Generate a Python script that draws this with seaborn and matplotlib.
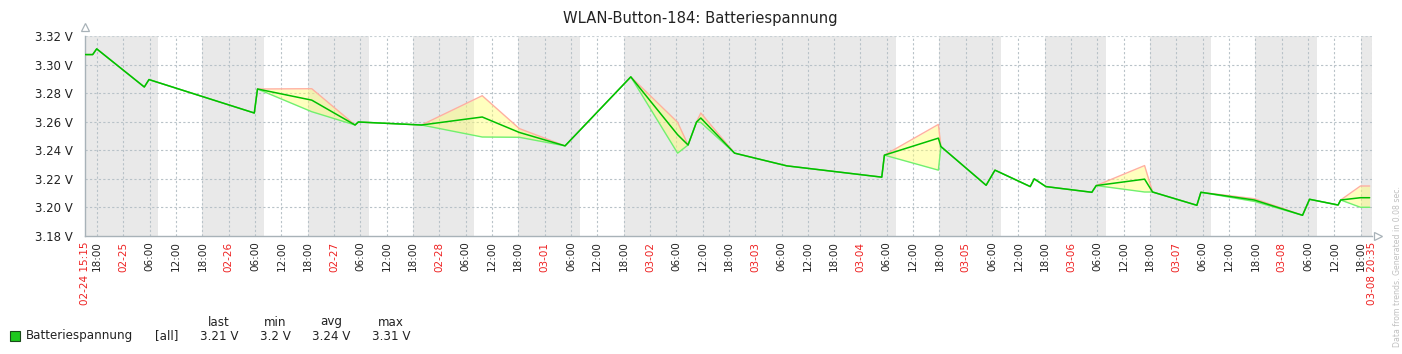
import matplotlib
matplotlib.use("Agg")
import matplotlib.pyplot as plt
import matplotlib.dates as mdates
from matplotlib.patches import Rectangle
import seaborn as sns
import pandas as pd
import numpy as np

# ---------------- data ----------------
title = "WLAN-Button-184: Batteriespannung"
series_name = "Batteriespannung"
x_start = "2019-02-24 15:15"
x_end = "2019-03-08 20:35"

times = [
    "2019-02-24 15:15", "2019-02-24 17:00", "2019-02-24 17:55", "2019-02-25 04:46",
    "2019-02-25 05:50", "2019-02-26 05:50", "2019-02-26 06:34", "2019-02-26 18:56",
    "2019-02-27 04:48", "2019-02-27 05:33", "2019-02-27 19:57", "2019-02-28 09:47",
    "2019-02-28 18:14", "2019-03-01 04:40", "2019-03-01 19:39", "2019-03-02 06:19",
    "2019-03-02 08:42", "2019-03-02 10:38", "2019-03-02 11:36", "2019-03-02 19:18",
    "2019-03-03 07:12", "2019-03-04 04:51", "2019-03-04 05:27", "2019-03-04 17:45",
    "2019-03-04 18:20", "2019-03-05 04:38", "2019-03-05 06:39", "2019-03-05 14:41",
    "2019-03-05 15:36", "2019-03-05 18:15", "2019-03-06 04:44", "2019-03-06 05:44",
    "2019-03-06 16:45", "2019-03-06 18:34", "2019-03-07 04:40", "2019-03-07 05:35",
    "2019-03-07 17:45", "2019-03-08 04:45", "2019-03-08 06:21", "2019-03-08 12:51",
    "2019-03-08 13:27", "2019-03-08 17:57", "2019-03-08 20:03",
]
avg_v = [
    3.3070, 3.3070, 3.3110, 3.2843, 3.2895, 3.2661, 3.2829, 3.2751,
    3.2577, 3.2598, 3.2577, 3.2633, 3.2525, 3.2431, 3.2914, 3.2509,
    3.2437, 3.2598, 3.2626, 3.2380, 3.2291, 3.2212, 3.2366, 3.2485,
    3.2426, 3.2155, 3.2261, 3.2146, 3.2200, 3.2146, 3.2106, 3.2153,
    3.2198, 3.2108, 3.2015, 3.2106, 3.2052, 3.1945, 3.2057, 3.2017,
    3.2052, 3.2068, 3.2068,
]
min_v = [
    3.3070, 3.3070, 3.3110, 3.2843, 3.2895, 3.2661, 3.2829, 3.2670,
    3.2577, 3.2598, 3.2577, 3.2493, 3.2491, 3.2431, 3.2914, 3.2380,
    3.2437, 3.2598, 3.2595, 3.2380, 3.2291, 3.2212, 3.2366, 3.2261,
    3.2426, 3.2155, 3.2261, 3.2146, 3.2200, 3.2146, 3.2106, 3.2153,
    3.2108, 3.2108, 3.2015, 3.2106, 3.2042, 3.1945, 3.2057, 3.2017,
    3.2052, 3.2001, 3.2001,
]
max_v = [
    3.3070, 3.3070, 3.3110, 3.2843, 3.2895, 3.2661, 3.2829, 3.2831,
    3.2577, 3.2598, 3.2577, 3.2782, 3.2552, 3.2431, 3.2914, 3.2596,
    3.2437, 3.2598, 3.2661, 3.2380, 3.2291, 3.2212, 3.2366, 3.2581,
    3.2426, 3.2155, 3.2261, 3.2146, 3.2200, 3.2146, 3.2106, 3.2153,
    3.2293, 3.2108, 3.2015, 3.2106, 3.2061, 3.1945, 3.2057, 3.2017,
    3.2052, 3.2150, 3.2150,
]

# non-working-time periods (shaded)
off_starts = ["2019-02-24 15:15", "2019-02-25 18:00", "2019-02-26 18:00", "2019-02-27 18:00",
              "2019-02-28 18:00", "2019-03-01 18:00", "2019-03-04 18:00", "2019-03-05 18:00",
              "2019-03-06 18:00", "2019-03-07 18:00", "2019-03-08 18:00"]
off_ends = ["2019-02-25 08:00", "2019-02-26 08:00", "2019-02-27 08:00", "2019-02-28 08:00",
            "2019-03-01 08:00", "2019-03-04 08:00", "2019-03-05 08:00", "2019-03-06 08:00",
            "2019-03-07 08:00", "2019-03-08 08:00", "2019-03-08 20:35"]

y_ticks = [3.18, 3.20, 3.22, 3.24, 3.26, 3.28, 3.30, 3.32]
legend_headers = ["last", "min", "avg", "max"]
legend_values = ["3.21 V", "3.2 V", "3.24 V", "3.31 V"]
legend_func = "[all]"
footer = "Data from trends. Generated in 0.08 sec."

# ---------------- figure ----------------
sns.set_style("white")
plt.rcParams["font.family"] = ["DejaVu Sans"]

W, H = 1402, 354
fig = plt.figure(figsize=(W / 100, H / 100), dpi=100)
ax = fig.add_axes([85 / W, 1 - 236 / H, 1287 / W, 200 / H])

df = pd.DataFrame({"time": pd.to_datetime(times), "avg": avg_v, "min": min_v, "max": max_v})
t0, t1 = pd.Timestamp(x_start), pd.Timestamp(x_end)

for s, e in zip(off_starts, off_ends):
    ax.axvspan(pd.Timestamp(s), pd.Timestamp(e), color="#e9e9e9", lw=0, zorder=0)

ax.fill_between(df["time"], df["min"], df["max"], color="#ffff70", alpha=0.45, lw=0, zorder=2)
sns.lineplot(data=df, x="time", y="max", ax=ax, color="#ffb0a0", lw=1, zorder=3)
sns.lineplot(data=df, x="time", y="min", ax=ax, color="#70f070", lw=1, zorder=3)
sns.lineplot(data=df, x="time", y="avg", ax=ax, color="#00c000", lw=1.1, zorder=4)

ax.set_xlim(t0, t1)
ax.set_ylim(3.18, 3.32)
ax.set_xlabel("")
ax.set_ylabel("")

# grid
ax.set_yticks(y_ticks)
ax.set_yticklabels([f"{v:.2f} V" for v in y_ticks], fontsize=8.5, color="#222222")
grid_times = pd.date_range("2019-02-24 18:00", "2019-03-08 18:00", freq="6h")
for gt in grid_times:
    ax.axvline(gt, color="#b8c2c8", lw=0.8, ls=(0, (2, 2)), zorder=1)
for v in y_ticks[1:-1]:
    ax.axhline(v, color="#b8c2c8", lw=0.8, ls=(0, (2, 2)), zorder=1)
ax.axhline(3.32, color="#c8d0d4", lw=0.8, ls=(0, (2, 2)), zorder=1)
ax.axvline(t1, color="#c8d0d4", lw=0.8, ls=(0, (2, 2)), zorder=1)

# x ticks
tick_pos = [t0] + list(grid_times) + [t1]
tick_lab = [t0.strftime("%m-%d %H:%M")]
tick_col = ["#ee2222"]
for gt in grid_times:
    if gt.hour == 0:
        tick_lab.append(gt.strftime("%m-%d"))
        tick_col.append("#ee2222")
    else:
        tick_lab.append(gt.strftime("%H:%M"))
        tick_col.append("#222222")
tick_lab.append(t1.strftime("%m-%d %H:%M"))
tick_col.append("#ee2222")
ax.set_xticks(tick_pos)
ax.set_xticklabels(tick_lab, rotation=90, fontsize=7.5, va="top", ha="center")
for lab, c in zip(ax.get_xticklabels(), tick_col):
    lab.set_color(c)
ax.tick_params(axis="x", length=0, pad=4)
ax.tick_params(axis="y", length=0, pad=9)

for side in ["top", "right"]:
    ax.spines[side].set_visible(False)
for side in ["left", "bottom"]:
    ax.spines[side].set_color("#a8b2b8")
    ax.spines[side].set_linewidth(1)

ax.plot([0], [1.045], marker="^", ms=6, mfc="white", mec="#a8b2b8", mew=0.9,
        transform=ax.transAxes, clip_on=False)
ax.plot([1.0045], [0], marker=">", ms=6, mfc="white", mec="#a8b2b8", mew=0.9,
        transform=ax.transAxes, clip_on=False)

fig.text(700 / W, 1 - 19 / H, title, ha="center", va="center", fontsize=10.6, color="#222222")

# legend
fig.patches.append(Rectangle((10 / W, 1 - 341 / H), 10 / W, 10 / H, transform=fig.transFigure,
                             facecolor="#1ec81e", edgecolor="#1a4a1a", lw=0.8))
ly = 1 - 336 / H
fig.text(26 / W, ly, series_name, ha="left", va="center", fontsize=8.6, color="#222222")
fig.text(155 / W, ly, legend_func, ha="left", va="center", fontsize=8.6, color="#222222")
for cx, h, v in zip([219, 275, 331, 391], legend_headers, legend_values):
    fig.text(cx / W, 1 - 322 / H, h, ha="center", va="center", fontsize=8.6, color="#222222")
    fig.text(cx / W, ly, v, ha="center", va="center", fontsize=8.6, color="#222222")

fig.text(1398 / W, 1 - 347 / H, footer, rotation=90, ha="center", va="bottom",
         fontsize=5.6, color="#c0c0c0")

fig.savefig("out.png", dpi=100)
